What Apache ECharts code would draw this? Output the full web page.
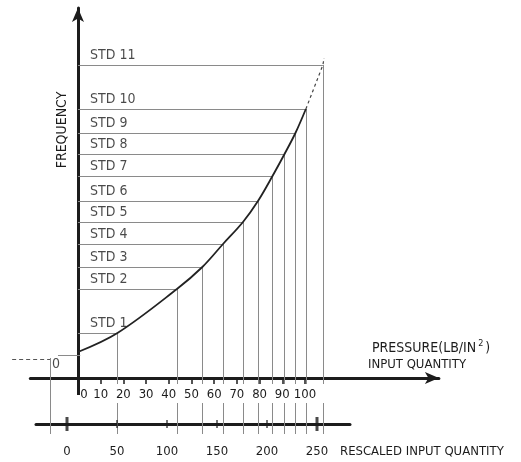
<!DOCTYPE html>
<html>
<head>
<meta charset="utf-8">
<script src="https://cdn.jsdelivr.net/npm/echarts@6/dist/echarts.min.js"></script>
<style>
  html, body { margin: 0; padding: 0; background: #fff; }
  #chart { width: 521px; height: 462px; }
</style>
</head>
<body>
<div id="chart"></div>
<script>
// calibration standards: pressure (LB/IN2) and frequency (relative units, 0 = pressure axis)
var StdNames = ['STD 1', 'STD 2', 'STD 3', 'STD 4', 'STD 5', 'STD 6', 'STD 7', 'STD 8', 'STD 9', 'STD 10', 'STD 11']
var StdPressure = [17.4, 43.6, 54.8, 63.9, 72.7, 79.3, 85.7, 91.0, 95.8, 100.4, 107.9]
var StdFrequency = [45, 89, 111, 134, 156, 177, 202, 224, 245, 269, 313]

var CurveStart = [0, 26] // curve meets the frequency axis
var CurveTail = [108.4, 320] // end of the dashed extrapolation past STD 11

// extrapolated zero, dropped onto the rescaled scale
var ZeroPoint = [-12.3, 19]
var ZeroDashFrom = [-29, 19]
var ZeroBar = [[-8.8, 23], [1, 23]]

var PressureTicks = [0, 10, 20, 30, 40, 50, 60, 70, 80, 90, 100]
var RescaledTicks = [0, 50, 100, 150, 200, 250]
var RescaledMajor = [0, 250]

var FONT = "'DejaVu Sans Condensed', 'DejaVu Sans', sans-serif"
var INK = '#1c1c1c'
var THIN = '#8a8a8a'
var AXIS_FOOT = -17 // frequency axis runs a little below the pressure axis
var GAP_TOP = -6 // drop lines stop just under the pressure axis
var GAP_BOTTOM = -25 // and restart under its labels
var RESCALED_LEVEL = -56 // rescaled axis, in frequency units

function BuildCurve() {
  var pts = [CurveStart]
  for (var i = 0; i < 10; i++) pts.push([StdPressure[i], StdFrequency[i]])
  return pts
}

function BuildHorizontals() {
  return StdPressure.map(function(p, i) {
    return { coords: [[0, StdFrequency[i]], [p, StdFrequency[i]]] }
  })
}

function BuildDrops() {
  var out = []
  StdPressure.forEach(function(p, i) {
    out.push({ coords: [[p, StdFrequency[i]], [p, GAP_TOP]] })
    out.push({ coords: [[p, GAP_BOTTOM], [p, RESCALED_LEVEL]] })
  })
  out.push({ coords: [[ZeroPoint[0], ZeroPoint[1] + 1], [ZeroPoint[0], RESCALED_LEVEL]] })
  out.push({ coords: ZeroBar })
  return out
}

var chart = echarts.init(document.getElementById('chart'))
chart.setOption({
  animation: false,
  backgroundColor: '#fff',
  grid: [
    { left: 30.3, width: 408.6, top: 8, height: 370, outerBoundsMode: 'none' },
    { left: 36, width: 314, top: 424, height: 10, outerBoundsMode: 'none' }
  ],
  xAxis: [
    {
      type: 'value',
      gridIndex: 0,
      min: -21,
      max: 159,
      splitLine: { show: false },
      axisLine: {
        symbol: ['none', 'arrow'],
        symbolSize: [9, 14],
        lineStyle: { color: INK, width: 3 }
      },
      axisTick: {
        customValues: PressureTicks,
        length: 6,
        lineStyle: { color: INK, width: 1.5 }
      },
      axisLabel: {
        customValues: PressureTicks,
        margin: 10,
        color: INK,
        fontFamily: FONT,
        fontSize: 13,
        formatter: function(v) {
          return v === 0 ? '{z|0}' : String(v)
        },
        rich: { z: { padding: [0, 0, 0, 12], fontFamily: FONT, fontSize: 13, color: INK } }
      }
    },
    {
      type: 'value',
      gridIndex: 1,
      min: -31,
      max: 283,
      splitLine: { show: false },
      axisLine: { lineStyle: { color: INK, width: 3 } },
      axisTick: { show: false },
      axisLabel: {
        customValues: RescaledTicks,
        margin: 11,
        color: INK,
        fontFamily: FONT,
        fontSize: 13
      }
    }
  ],
  yAxis: [
    {
      type: 'value',
      gridIndex: 0,
      min: 0,
      max: 370,
      splitLine: { show: false },
      axisTick: { show: false },
      axisLabel: { show: false },
      axisLine: {
        onZero: true,
        symbol: ['none', 'arrow'],
        symbolSize: [9, 14],
        lineStyle: { color: INK, width: 3 }
      }
    },
    {
      type: 'value',
      gridIndex: 1,
      min: -10,
      max: 0,
      show: false
    }
  ],
  graphic: [
    {
      type: 'text',
      x: 62,
      y: 130,
      rotation: Math.PI / 2,
      style: { text: 'FREQUENCY', font: '14px ' + FONT, fill: INK, align: 'center', verticalAlign: 'middle' }
    },
    {
      type: 'text',
      x: 372,
      y: 348,
      style: {
        text: 'PRESSURE(LB/IN{s|2})',
        font: '14px ' + FONT,
        fill: INK,
        align: 'left',
        verticalAlign: 'middle',
        rich: { s: { font: '9px ' + FONT, fill: INK, padding: [0, 2, 8, 2] } }
      }
    },
    {
      type: 'text',
      x: 368,
      y: 365,
      style: { text: 'INPUT QUANTITY', font: '13px ' + FONT, fill: INK, align: 'left', verticalAlign: 'middle' }
    },
    {
      type: 'text',
      x: 340,
      y: 452,
      style: { text: 'RESCALED INPUT QUANTITY', font: '13px ' + FONT, fill: INK, align: 'left', verticalAlign: 'middle' }
    }
  ],
  series: [
    {
      name: 'levels',
      type: 'lines',
      coordinateSystem: 'cartesian2d',
      clip: false,
      silent: true,
      lineStyle: { color: THIN, width: 1, opacity: 1 },
      data: BuildHorizontals()
    },
    {
      name: 'drops',
      type: 'lines',
      coordinateSystem: 'cartesian2d',
      clip: false,
      silent: true,
      lineStyle: { color: THIN, width: 1, opacity: 1 },
      data: BuildDrops()
    },
    {
      name: 'axis foot',
      type: 'lines',
      coordinateSystem: 'cartesian2d',
      clip: false,
      silent: true,
      lineStyle: { color: INK, width: 3, opacity: 1 },
      data: [{ coords: [[0, 0], [0, AXIS_FOOT]] }]
    },
    {
      name: 'zero dash',
      type: 'lines',
      coordinateSystem: 'cartesian2d',
      clip: false,
      silent: true,
      lineStyle: { color: '#555', width: 1.2, type: [4, 3], opacity: 1 },
      data: [{ coords: [ZeroDashFrom, ZeroPoint] }]
    },
    {
      name: 'curve',
      type: 'line',
      smooth: 0.35,
      symbol: 'none',
      lineStyle: { color: '#222', width: 1.8 },
      data: BuildCurve()
    },
    {
      name: 'extrapolation',
      type: 'line',
      symbol: 'none',
      clip: false,
      lineStyle: { color: '#444', width: 1.2, type: [3, 3] },
      data: [[StdPressure[9], StdFrequency[9]], [StdPressure[10], StdFrequency[10]], CurveTail]
    },
    {
      name: 'std labels',
      type: 'scatter',
      symbolSize: 0,
      silent: true,
      data: StdFrequency.map(function(f) { return [5.3, f] }),
      label: {
        show: true,
        position: 'right',
        distance: 0,
        offset: [0, -10],
        color: INK,
        fontFamily: FONT,
        fontSize: 14,
        formatter: function(p) { return StdNames[p.dataIndex] }
      }
    },
    {
      name: 'zero label',
      type: 'scatter',
      symbolSize: 0,
      silent: true,
      clip: false,
      data: [ZeroPoint],
      label: {
        show: true,
        position: 'inside',
        offset: [6, 5],
        color: INK,
        fontFamily: FONT,
        fontSize: 14,
        formatter: '0'
      }
    },
    {
      name: 'rescaled ticks',
      type: 'scatter',
      xAxisIndex: 1,
      yAxisIndex: 1,
      symbol: 'rect',
      silent: true,
      clip: false,
      itemStyle: { color: INK },
      data: RescaledTicks.map(function(v) { return [v, 0] }),
      symbolSize: function(val) {
        return RescaledMajor.indexOf(val[0]) >= 0 ? [3, 14] : [1.5, 8]
      }
    }
  ]
})
</script>
</body>
</html>
